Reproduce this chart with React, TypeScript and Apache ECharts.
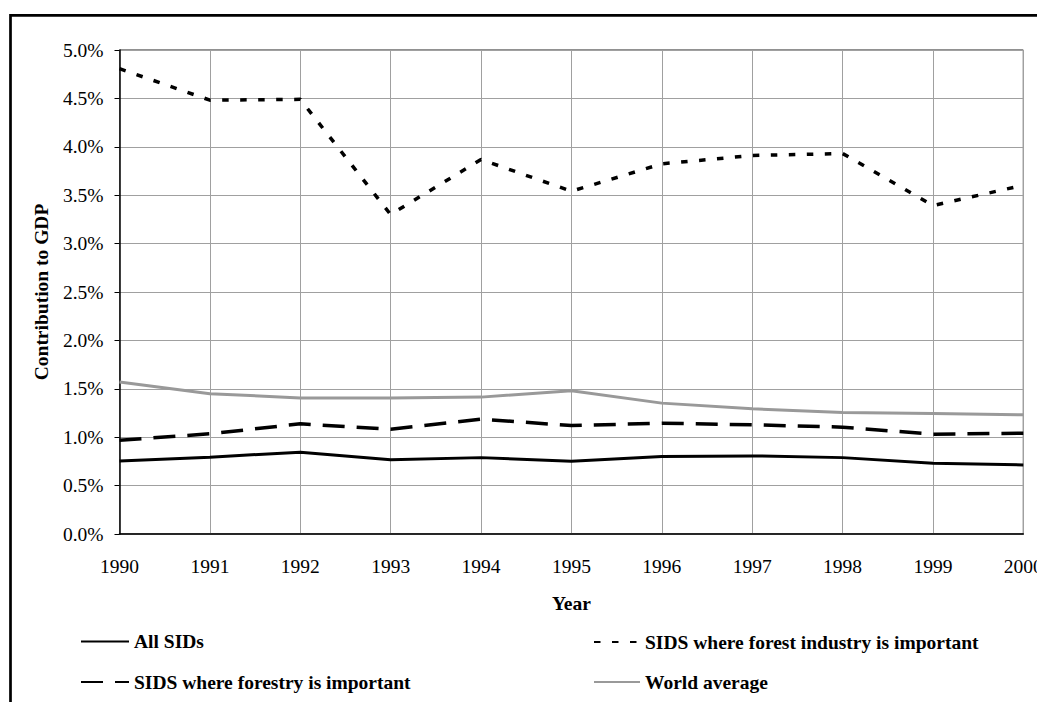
import React, { useEffect, useRef } from "react";
import * as echarts from "echarts";

const years = ["1990", "1991", "1992", "1993", "1994", "1995", "1996", "1997", "1998", "1999", "2000"];
const allSids = [0.753, 0.794, 0.845, 0.766, 0.789, 0.752, 0.8, 0.807, 0.789, 0.731, 0.714];
const forestIndustry = [4.807, 4.482, 4.49, 3.3, 3.869, 3.541, 3.824, 3.91, 3.931, 3.393, 3.603];
const forestry = [0.969, 1.035, 1.138, 1.083, 1.187, 1.12, 1.145, 1.128, 1.104, 1.031, 1.042];
const worldAverage = [1.571, 1.45, 1.406, 1.404, 1.414, 1.479, 1.352, 1.293, 1.255, 1.245, 1.231];

const FONT = "Liberation Serif";
const FS = 19.5;

export default function App() {
  const ref = useRef<HTMLDivElement>(null);
  useEffect(() => {
    document.body.style.margin = "0";
    const chart = echarts.init(ref.current!, null, { renderer: "svg" });
    const legendText = { fontFamily: FONT, fontWeight: "bold" as const, fontSize: FS, color: "#000" };
    const mkLegend = (name: string, left: number, top: number, w: number) => ({
      data: [name],
      left,
      top,
      itemWidth: w,
      itemHeight: 14,
      itemGap: 5,
      padding: 0,
      itemStyle: { color: "rgba(0,0,0,0)", borderWidth: 0, opacity: 0 },
      textStyle: legendText,
    });
    chart.setOption({
      animation: false,
      backgroundColor: "#fff",
      textStyle: { fontFamily: FONT },
      grid: {
        left: 119.5,
        right: 13.7,
        top: 50,
        bottom: 168,
        show: true,
        borderColor: "#222",
        borderWidth: 1,
        outerBoundsMode: "none",
        containLabel: false,
      },
      legend: [
        mkLegend("All SIDs", 80, 631.5, 48),
        mkLegend("SIDS where forest industry is important", 593, 632, 46),
        mkLegend("SIDS where forestry is important", 80, 672, 48),
        mkLegend("World average", 593, 672, 46),
      ],
      xAxis: {
        type: "category",
        data: years,
        boundaryGap: false,
        name: "Year",
        nameLocation: "middle",
        nameGap: 59,
        nameTextStyle: { fontFamily: FONT, fontWeight: "bold", fontSize: FS, color: "#000" },
        axisLine: { lineStyle: { color: "#000", width: 1.5 } },
        axisTick: { show: false },
        axisLabel: { fontFamily: FONT, fontSize: FS, color: "#000", margin: 22 },
        splitLine: { show: true, lineStyle: { color: "#a0a0a0", width: 1 } },
      },
      yAxis: {
        type: "value",
        min: 0,
        max: 5,
        interval: 0.5,
        name: "Contribution to GDP",
        nameLocation: "middle",
        nameGap: 66.5,
        nameTextStyle: { fontFamily: FONT, fontWeight: "bold", fontSize: FS, color: "#000" },
        axisLine: { show: true, lineStyle: { color: "#000", width: 1.5 } },
        axisTick: { show: true, length: 5, inside: false, lineStyle: { color: "#000" } },
        axisLabel: {
          fontFamily: FONT,
          fontSize: FS,
          color: "#000",
          margin: 16,
          formatter: (v: number) => v.toFixed(1) + "%",
        },
        splitLine: { show: true, lineStyle: { color: "#a0a0a0", width: 1 } },
      },
      series: [
        {
          name: "All SIDs",
          type: "line",
          data: allSids,
          symbol: "none",
          lineStyle: { color: "#000", width: 3, type: "solid" },
          itemStyle: { color: "#000" },
        },
        {
          name: "SIDS where forest industry is important",
          type: "line",
          data: forestIndustry,
          symbol: "none",
          lineStyle: { color: "#000", width: 3.5, type: [6.5, 11.5] },
          itemStyle: { color: "#000" },
        },
        {
          name: "SIDS where forestry is important",
          type: "line",
          data: forestry,
          symbol: "none",
          lineStyle: { color: "#000", width: 3.5, type: [22, 12] },
          itemStyle: { color: "#000" },
        },
        {
          name: "World average",
          type: "line",
          data: worldAverage,
          symbol: "none",
          lineStyle: { color: "#999999", width: 3, type: "solid" },
          itemStyle: { color: "#999999" },
        },
      ],
      graphic: [
        {
          type: "polyline",
          silent: true,
          shape: { points: [[10.5, 720], [10.5, 15.3], [1050, 15.3]] },
          style: { fill: "none", stroke: "#000", lineWidth: 2.7 },
        },
      ],
    });
    return () => chart.dispose();
  }, []);
  return (
    <div
      ref={ref}
      style={{ position: "fixed", left: 0, top: 0, width: 1037, height: 702 }}
    />
  );
}
